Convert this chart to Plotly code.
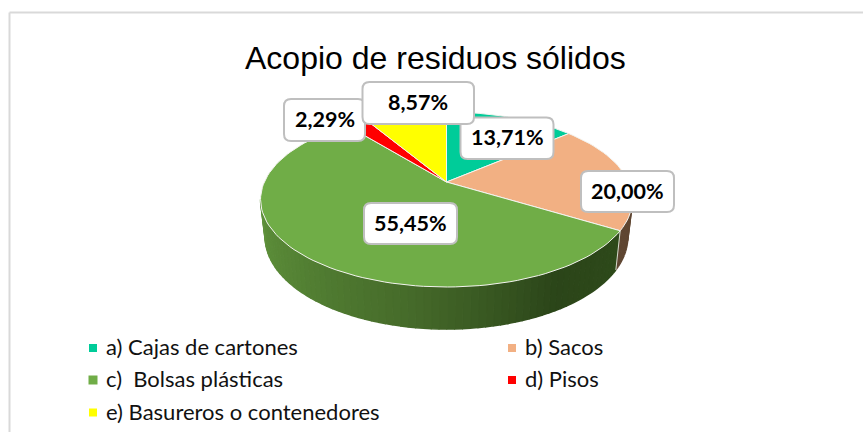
import math
import plotly.graph_objects as go

# Datos del gráfico
categorias = ['a) Cajas de cartones', 'b) Sacos', 'c)  Bolsas plásticas', 'd) Pisos', 'e) Basureros o contenedores']
valores = [13.71, 20.00, 55.45, 2.29, 8.57]
colores = ['#00CC99', '#F2B083', '#70AD47', '#FF0000', '#FFFF00']
titulo = 'Acopio de residuos sólidos'

# Geometria de la torta en perspectiva (pixeles de la figura)
CX, CY = 446.5, 182
RX, RY = 182.2, 84
PERSP = 0.2
PASO = 2
LADO_DER, LADO_IZQ = 101.5, 258.5

# Cajas de las etiquetas (izq, arriba, der, abajo), en orden de dibujo
CAJAS = {
    2: (364, 203, 457, 244),
    1: (581, 171, 674, 212),
    3: (284, 99, 365, 141),
    0: (460.5, 117.5, 553.5, 159),
    4: (362.5, 82, 474, 124),
}

# Leyenda: (x del marcador, y de la fila, lado)
LEYENDA = [(93, 348, 8), (512, 348, 8), (93, 380, 9), (512, 380, 8), (93, 412.5, 8)]

# Degradado de la pared verde: (angulo, r, g, b)
DEGRADADO = [(121, 46, 74, 26), (150, 43, 69, 25), (190, 70, 107, 42), (225, 84, 130, 52), (259, 96, 146, 60)]
PARED_CAFE = '#5F4632'


def borde(theta):
    t = math.radians(theta)
    d = 1 + PERSP * math.cos(t)
    return CX + RX * math.sin(t) / d, CY - RY * math.cos(t) / d


def borde_bajo(theta):
    x, y = borde(theta)
    return CX + (x - CX) * 0.975, 218.75 + (y - CY) * 1.05


def color_pared(theta):
    for (a0, r0, g0, b0), (a1, r1, g1, b1) in zip(DEGRADADO, DEGRADADO[1:]):
        if theta <= a1:
            f = max(0, (theta - a0) / (a1 - a0))
            return f'rgb({r0 + (r1 - r0) * f:.0f},{g0 + (g1 - g0) * f:.0f},{b0 + (b1 - b0) * f:.0f})'
    return f'rgb({DEGRADADO[-1][1]},{DEGRADADO[-1][2]},{DEGRADADO[-1][3]})'


def angulos(a, b):
    n = max(1, int(abs(b - a) / PASO))
    return [a + (b - a) * i / n for i in range(n + 1)]


def poligono(fig, xs, ys, relleno, linea, ancho):
    fig.add_trace(go.Scatter(
        x=xs, y=ys, mode='lines', fill='toself', fillcolor=relleno,
        line=dict(color=linea, width=ancho), hoverinfo='skip', showlegend=False
    ))


def caja_redondeada(x0, y0, x1, y1, r=7):
    return (f'M {x0 + r} {y0} L {x1 - r} {y0} Q {x1} {y0} {x1} {y0 + r} '
            f'L {x1} {y1 - r} Q {x1} {y1} {x1 - r} {y1} '
            f'L {x0 + r} {y1} Q {x0} {y1} {x0} {y1 - r} '
            f'L {x0} {y0 + r} Q {x0} {y0} {x0 + r} {y0} Z')


total = sum(valores)
limites = [0]
for v in valores:
    limites.append(limites[-1] + v / total * 360)

fig = go.Figure()

# Pared lateral: tramos con degradado
corte = limites[2]
ang_cafe = angulos(LADO_DER, corte)
for a, b in zip(ang_cafe, ang_cafe[1:]):
    pts = [borde(a), borde(b), borde_bajo(b), borde_bajo(a)]
    poligono(fig, [p[0] for p in pts], [p[1] for p in pts], PARED_CAFE, PARED_CAFE, 1.5)
ang_verde = angulos(corte, LADO_IZQ)
for a, b in zip(ang_verde, ang_verde[1:]):
    pts = [borde(a), borde(b), borde_bajo(b), borde_bajo(a)]
    c = color_pared((a + b) / 2)
    poligono(fig, [p[0] for p in pts], [p[1] for p in pts], c, c, 1.5)

# Linea clara entre paredes
p0, p1 = borde(corte), borde_bajo(corte)
fig.add_trace(go.Scatter(x=[p0[0], p1[0]], y=[p0[1], p1[1]], mode='lines',
                         line=dict(color='#D9DDD0', width=1), hoverinfo='skip', showlegend=False))

# Cara superior
for i, color in enumerate(colores):
    pts = [(CX, CY)] + [borde(t) for t in angulos(limites[i], limites[i + 1])] + [(CX, CY)]
    poligono(fig, [p[0] for p in pts], [p[1] for p in pts], color, '#F4F4F0', 1)

# Marco y cajas de etiquetas
formas = [
    dict(type='line', x0=9.5, y0=12.5, x1=863, y1=12.5, line=dict(color='#D9D9D9', width=2)),
    dict(type='line', x0=9.5, y0=12.5, x1=9.5, y1=432, line=dict(color='#D9D9D9', width=2)),
]
anotaciones = [dict(x=435.5, y=57.5, text=titulo, showarrow=False, xanchor='center', yanchor='middle',
                    font=dict(family='Liberation Sans', size=32, color='#000000'))]

for i, (x0, y0, x1, y1) in CAJAS.items():
    formas.append(dict(type='path', path=caja_redondeada(x0, y0, x1, y1), fillcolor='#FFFFFF',
                       line=dict(color='#BFBFBF', width=2), layer='above'))
    anotaciones.append(dict(x=(x0 + x1) / 2, y=(y0 + y1) / 2 - 1, showarrow=False,
                            text=f'<b>{valores[i]:.2f}%</b>'.replace('.', ','),
                            xanchor='center', yanchor='middle',
                            font=dict(family='Lato', size=21.5, color='#000000')))

# Leyenda manual, dos columnas
for nombre, color, (x, y, lado) in zip(categorias, colores, LEYENDA):
    formas.append(dict(type='rect', x0=x - lado / 2, y0=y - lado / 2, x1=x + lado / 2, y1=y + lado / 2,
                       fillcolor=color, line=dict(width=0)))
    anotaciones.append(dict(x=x + 10.5, y=y - 1.5, text=nombre.replace('  ', '\u00a0\u00a0'), showarrow=False,
                            xanchor='left', yanchor='middle',
                            font=dict(family='Lato', size=22, color='#111111')))

fig.update_layout(
    width=863, height=432,
    margin=dict(l=0, r=0, t=0, b=0),
    paper_bgcolor='#FFFFFF', plot_bgcolor='#FFFFFF',
    xaxis=dict(range=[0, 863], visible=False, fixedrange=True),
    yaxis=dict(range=[432, 0], visible=False, fixedrange=True),
    shapes=formas, annotations=anotaciones, showlegend=False
)

# El margen del body desplaza la figura 8 px
fig.write_html("out.html", config={'displayModeBar': False},
               post_script="document.body.style.margin='0';document.body.style.overflow='hidden';")
